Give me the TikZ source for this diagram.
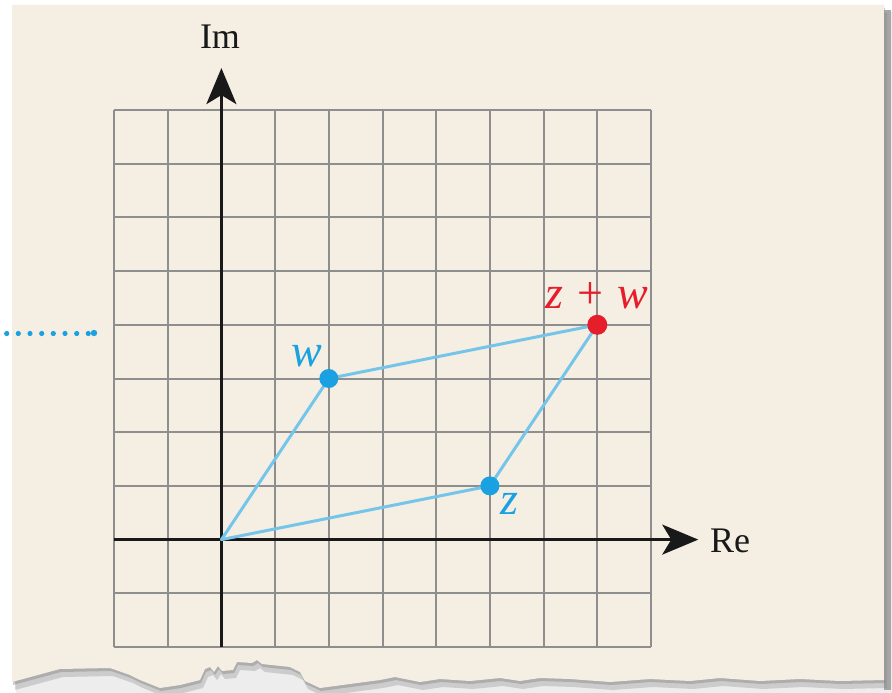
\documentclass[tikz,border=0pt]{standalone}
\usepackage{fontspec}
\setmainfont{Liberation Serif}
\usetikzlibrary{arrows.meta}
\definecolor{paper}{HTML}{F4EEE3}
\definecolor{gridgray}{HTML}{8E8E8E}
\definecolor{vecblue}{HTML}{74C5E9}
\definecolor{dotblue}{HTML}{19A1E1}
\definecolor{sumred}{HTML}{E61E2B}
\definecolor{shadowgray}{HTML}{A6A6A6}
\tikzset{
  gridline/.style={gridgray, line width=2pt},
  axisline/.style={black!90, line width=2.6pt, -{Stealth[length=36pt,width=30pt,inset=9pt]}},
  vecline/.style={vecblue, line width=3pt},
  ptdot/.style={circle, inner sep=0pt, minimum size=19pt, fill=#1},
  axlabel/.style={font=\fontsize{36}{40}\selectfont, text=black!90, inner sep=0pt, anchor=base},
  ptlabel/.style={font=\fontsize{46}{50}\selectfont\itshape, text=#1, inner sep=0pt, anchor=base},
  tinydot/.style={dotblue},
}
\begin{document}
\begin{tikzpicture}[x=1pt,y=-1pt]
\useasboundingbox (0,0) rectangle (892,693);
\fill[white] (0,0) rectangle (892,693);
% shadows
\def\tornedge{(884,680) -- (840,681) -- (800,679) -- (760,681) -- (720,678) -- (690,681) -- (650,679) -- (610,682) -- (570,679) -- (540,678) -- (520,681) -- (500,678) -- (470,681) -- (440,679) -- (420,682) -- (395,677) -- (380,680) -- (350,684) -- (320,688) -- (305,681) -- (300,672) -- (290,667) -- (262,664) -- (257,660) -- (252,663) -- (237,662) -- (233,670) -- (222,671) -- (218,666) -- (214,672) -- (210,667) -- (205,669) -- (200,680) -- (180,685) -- (160,688) -- (140,680) -- (130,675) -- (110,668) -- (60,669) -- (12,682)}
\fill[shadowgray, opacity=0.2] (16,12) -- (892,12) -- (892,693) -- (16,693) -- cycle;
\fill[white] (0,0) rectangle (16,693);
\fill[white] (0,0) rectangle (892,10);
\fill[shadowgray] (884,10) rectangle (891,690);
\fill[gray, opacity=0.3, shift={(3,8)}] (12,5) -- (884,5) -- \tornedge -- cycle;
\fill[gray, opacity=0.4, shift={(1,3)}] (12,5) -- (884,5) -- \tornedge -- cycle;
% paper
\fill[paper] (12,5) -- (884,5) -- \tornedge -- cycle;
% dotted lead
\foreach \xx in {6.7,18.3,30,41.7,53.3,65,76.7,88.3}
  \fill[tinydot] (\xx,333.5) circle (2.6);
\fill[tinydot] (94,333) circle (3.2);
\begin{scope}[shift={(221.4,539.6)}, x=53.7pt, y=53.7pt]
  \foreach \k in {-2,...,8} {
    \draw[gridline] (\k,-2) -- (\k,8);
    \draw[gridline] (-2,\k) -- (8,\k);
  }
  \coordinate (xs) at (-2,0);
  \coordinate (xe) at (8.88,0);
  \coordinate (ys) at (0,-2);
  \coordinate (ye) at (0,8.78);
  \draw[axisline] (xs) -- (xe);
  \draw[axisline] (ys) -- (ye);
  \coordinate (O) at (0,0);
  \coordinate (w) at (2,3);
  \coordinate (z) at (5,1);
  \coordinate (zw) at (7,4);
  \draw[vecline, line join=round] (O) -- (w) -- (zw) -- (z) -- cycle;
  \node[ptdot=dotblue] (wdot) at (w) {};
  \node[ptdot=dotblue] (zdot) at (z) {};
  \node[ptdot=sumred, minimum size=20pt] (zwdot) at (zw) {};
\end{scope}
\node[axlabel] (im) at (220,49) {Im};
\node[axlabel, anchor=base west] (re) at (710,552) {Re};
\node[ptlabel=dotblue] (wl) at (307,366) {w};
\node[ptlabel=dotblue] (zl) at (509,514) {z};
\node[ptlabel=sumred, anchor=base west] (zwl) at (545,308) {z\hspace{14pt}{\upshape +}\hspace{14pt}w};
\end{tikzpicture}
\end{document}
